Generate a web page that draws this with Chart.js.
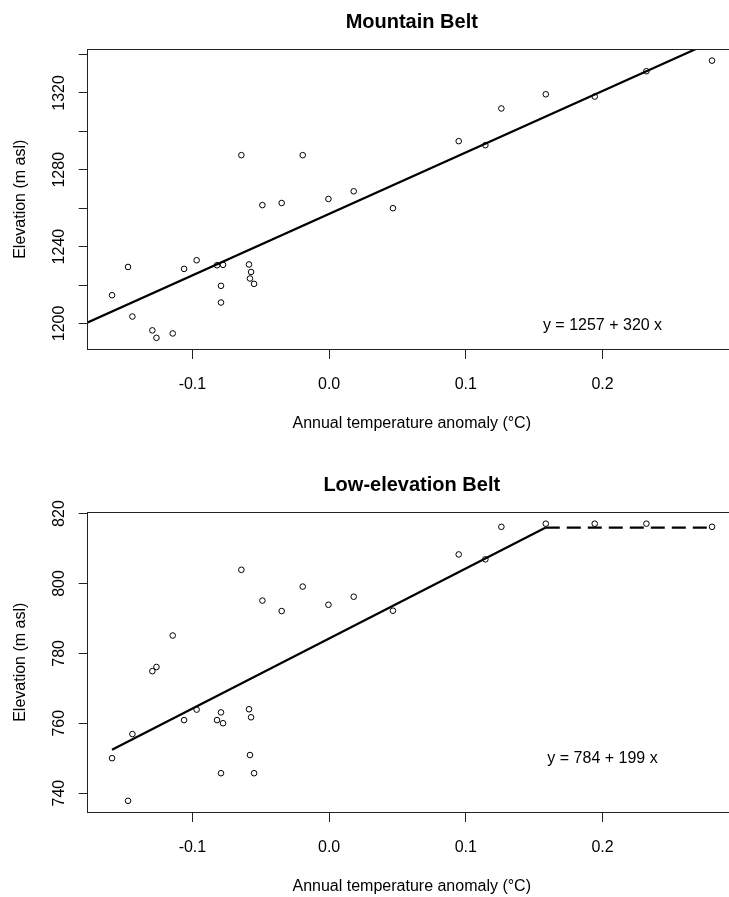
<!DOCTYPE html>
<html>
<head>
<meta charset="utf-8">
<script src="https://cdn.jsdelivr.net/npm/chart.js@4.4.1/dist/chart.umd.min.js"></script>
<style>
html, body { margin: 0; padding: 0; background: #fff; overflow: hidden; width: 729px; height: 897px; }
.wrap { position: absolute; left: 0; width: 745px; }
#w1 { top: 0; height: 463px; }
#w2 { top: 463px; height: 434px; }
canvas { display: block; }
</style>
</head>
<body>
<div class="wrap" id="w1"><canvas id="c1" width="745" height="463"></canvas></div>
<div class="wrap" id="w2"><canvas id="c2" width="745" height="434"></canvas></div>
<script>
// ---- data ----
const anomaly = [-0.1588, -0.1471, -0.1439, -0.1293, -0.1263, -0.1144, -0.1061, -0.0969, -0.0820, -0.0776,
                 -0.0791, -0.0791, -0.0642, -0.0586, -0.0571, -0.0579, -0.0549, -0.0488, -0.0347, -0.0193,
                 -0.0005, 0.0180, 0.0467, 0.0948, 0.1143, 0.1260, 0.1585, 0.1943, 0.2321, 0.2801];
const elevMountain = [1214.7, 1229.4, 1203.6, 1196.4, 1192.5, 1194.8, 1228.4, 1232.9, 1230.3, 1230.5,
                      1219.6, 1210.9, 1287.6, 1230.7, 1226.8, 1223.4, 1220.6, 1261.6, 1262.7, 1287.6,
                      1264.8, 1268.8, 1260.0, 1294.9, 1292.8, 1311.9, 1319.3, 1318.1, 1331.3, 1336.8];
const elevLow = [750.0, 737.8, 756.9, 774.9, 776.1, 785.1, 760.9, 763.9, 760.9, 760.0,
                 763.1, 745.7, 803.9, 764.0, 761.7, 750.9, 745.7, 795.1, 792.1, 799.1,
                 793.9, 796.2, 792.2, 808.3, 806.9, 816.2, 817.1, 817.1, 817.1, 816.2];

// fitted lines (y = 1257 + 320x ; y = 784 + 199x then plateau)
const fitMountainX = [-0.18, 0.30];
const fitMountainY = [1199.4, 1353.0];
const fitLowX = [-0.1588, 0.1585];
const fitLowY = [752.4, 816.0];
const plateauLowX = [0.1585, 0.2801];
const plateauLowY = [816.0, 816.0];

// ticks
const xTickValues = [-0.1, 0.0, 0.1, 0.2];
const xTickLabels = ['-0.1', '0.0', '0.1', '0.2'];
const yTicksMountain = [1200, 1220, 1240, 1260, 1280, 1300, 1320, 1340];
const yLabelsMountain = ['1200', '', '1240', '', '1280', '', '1320', ''];
const yTicksLow = [740, 760, 780, 800, 820];
const yLabelsLow = ['740', '760', '780', '800', '820'];

const titles = ['Mountain Belt', 'Low-elevation Belt'];
const equations = ['y = 1257 + 320 x', 'y = 784 + 199 x'];
const eqPos = [[0.2, 1199], [0.2, 750]];

// ---- rendering ----
const FAM = '"Liberation Sans", Arial, Helvetica, sans-serif';
Chart.defaults.font.family = FAM;
Chart.defaults.color = '#000';

const framePlugin = {
  id: 'frame',
  afterDatasetsDraw(chart, args, opts) {
    const { ctx, chartArea: a, scales } = chart;
    ctx.save();
    ctx.strokeStyle = '#222';
    ctx.lineWidth = 1;
    const l = Math.floor(a.left) + 0.5, t = Math.floor(a.top) + 0.5;
    const r = Math.floor(a.right) + 0.5, b = Math.floor(a.bottom) + 0.5;
    ctx.strokeRect(l, t, r - l, b - t);
    ctx.fillStyle = '#000';
    ctx.font = 'bold 20px ' + FAM;
    ctx.textAlign = 'center';
    ctx.textBaseline = 'alphabetic';
    ctx.fillText(opts.title, (a.left + a.right) / 2, a.top - 21.5);
    ctx.font = '16px ' + FAM;
    ctx.textBaseline = 'middle';
    ctx.fillText(opts.eq, scales.x.getPixelForValue(opts.eqX), scales.y.getPixelForValue(opts.eqY));
    ctx.restore();
  }
};

function pts(xs, ys) { return xs.map((x, i) => ({ x: x, y: ys[i] })); }

function makeChart(id, cfg) {
  const canvas = document.getElementById(id);
  const H = canvas.height;
  const xAxisH = H - 349;
  const datasets = cfg.lines.map(l => ({
    type: 'line',
    data: pts(l.x, l.y),
    showLine: true,
    borderColor: '#000',
    borderWidth: 2.2,
    borderDash: l.dash || [],
    pointRadius: 0,
    fill: false,
    tension: 0
  }));
  datasets.push({
    type: 'scatter',
    data: pts(anomaly, cfg.y),
    pointStyle: 'circle',
    pointRadius: 2.8,
    pointBorderWidth: 1,
    borderColor: '#000',
    backgroundColor: 'rgba(0,0,0,0)'
  });
  return new Chart(canvas, {
    type: 'scatter',
    data: { datasets: datasets },
    plugins: [framePlugin],
    options: {
      responsive: false,
      animation: false,
      events: [],
      layout: { padding: { top: 49.5, right: 9.2, bottom: 0, left: 0 } },
      plugins: {
        legend: { display: false },
        tooltip: { enabled: false },
        title: { display: false },
        frame: { title: cfg.title, eq: cfg.eq, eqX: cfg.eqPos[0], eqY: cfg.eqPos[1] }
      },
      scales: {
        x: {
          type: 'linear',
          min: -0.1766, max: 0.2975,
          afterBuildTicks: s => { s.ticks = xTickValues.map(v => ({ value: v })); },
          afterFit: s => { s.height = xAxisH; },
          ticks: {
            autoSkip: false, minRotation: 0, maxRotation: 0,
            padding: 16.4, color: '#000', font: { size: 16 },
            callback: (v, i) => xTickLabels[i]
          },
          grid: { drawOnChartArea: false, drawTicks: true, tickLength: 10, color: '#222', lineWidth: 1 },
          border: { display: false },
          title: {
            display: true, text: 'Annual temperature anomaly (°C)', color: '#000',
            font: { size: 16 }, padding: { top: 0, bottom: H - 9.6 - 424 }
          }
        },
        y: {
          type: 'linear',
          min: cfg.yMin, max: cfg.yMax,
          afterBuildTicks: s => { s.ticks = cfg.yTicks.map(v => ({ value: v })); },
          afterFit: s => { s.width = 87.7; },
          ticks: {
            autoSkip: false, minRotation: 90, maxRotation: 90, crossAlign: 'center',
            padding: cfg.yPad, color: '#000', font: { size: 16 },
            callback: (v, i) => cfg.yLabels[i]
          },
          grid: { drawOnChartArea: false, drawTicks: true, tickLength: 9, color: '#222', lineWidth: 1 },
          border: { display: false },
          title: {
            display: true, text: 'Elevation (m asl)', color: '#000',
            font: { size: 16 }, padding: { top: 10.9, bottom: 0 }
          }
        }
      }
    }
  });
}

makeChart('c1', {
  y: elevMountain, yMin: 1186.7, yMax: 1342.6,
  yTicks: yTicksMountain, yLabels: yLabelsMountain, yPad: 1.7,
  lines: [{ x: fitMountainX, y: fitMountainY }],
  title: titles[0], eq: equations[0], eqPos: eqPos[0]
});
makeChart('c2', {
  y: elevLow, yMin: 734.6, yMax: 820.3,
  yTicks: yTicksLow, yLabels: yLabelsLow, yPad: 6.1,
  lines: [{ x: fitLowX, y: fitLowY }, { x: plateauLowX, y: plateauLowY, dash: [14, 7] }],
  title: titles[1], eq: equations[1], eqPos: eqPos[1]
});
</script>
</body>
</html>
